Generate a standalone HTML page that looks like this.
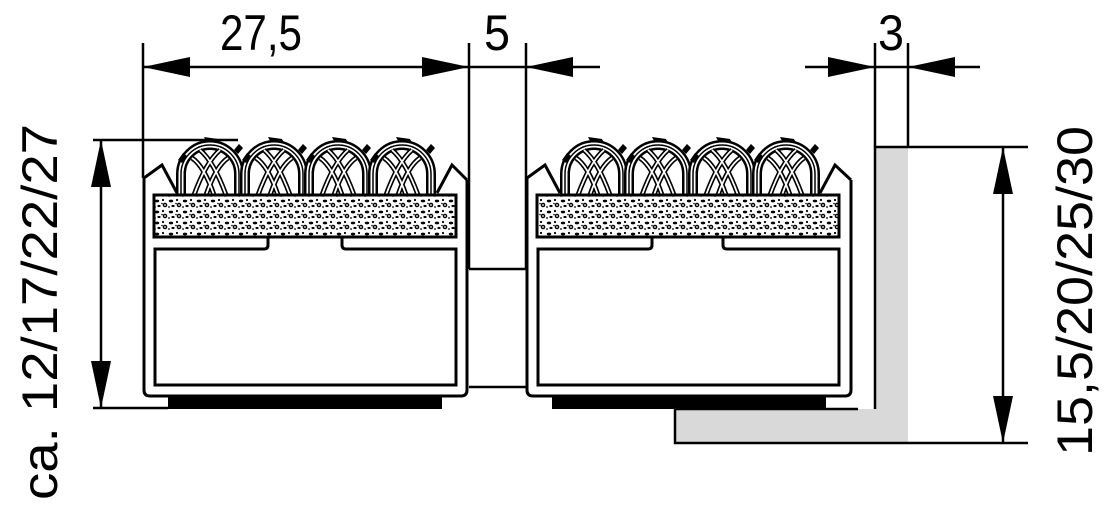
<!DOCTYPE html>
<html><head><meta charset="utf-8"><style>html,body{margin:0;padding:0;background:#fff}svg{display:block}</style></head>
<body>
<svg width="1109" height="506" viewBox="0 0 1109 506" xmlns="http://www.w3.org/2000/svg" font-family="Liberation Sans, sans-serif">
<defs>
<pattern id="crumb" width="14" height="11" patternUnits="userSpaceOnUse">
<rect width="14" height="11" fill="#fff"/>
<ellipse cx="3" cy="3" rx="2.2" ry="1.4" fill="#000"/>
<circle cx="9" cy="2" r="1.1" fill="#000"/>
<circle cx="11" cy="7" r="1.6" fill="none" stroke="#000" stroke-width="1.4"/>
<ellipse cx="5" cy="8" rx="1.6" ry="1.1" fill="#000"/>
<circle cx="1" cy="9" r="0.9" fill="#000"/>
<circle cx="8" cy="5.5" r="0.8" fill="#000"/>
</pattern>
<g id="loop">
<path d="M-29,23 L-29,2 A29,29 0 1 1 29,2 L29,23" fill="none" stroke="#000" stroke-width="10"/>
<path d="M-29,23 L-29,2 A29,29 0 1 1 29,2 L29,23" fill="none" stroke="#fff" stroke-width="5"/>
<path d="M-29,23 L-29,2 A29,29 0 1 1 29,2 L29,23" fill="none" stroke="#000" stroke-width="1.5"/>
<path d="M-16,23 Q-4,-10 10,-22 M-4,23 Q6,-6 18,-14 M16,23 Q4,-10 -10,-22 M4,23 Q-6,-6 -18,-14" fill="none" stroke="#000" stroke-width="5"/>
<path d="M-16,23 Q-4,-10 10,-22 M-4,23 Q6,-6 18,-14 M16,23 Q4,-10 -10,-22 M4,23 Q-6,-6 -18,-14" fill="none" stroke="#fff" stroke-width="1.8"/>
<path d="M-6,-35 L8,-33 L10,-29 L-4,-31 Z" fill="#000"/>
<path d="M-32,-12 L-27,-19 L-23,-16 L-28,-9 Z" fill="#000"/>
<path d="M24,-22 L29,-28 L33,-24 L28,-18 Z" fill="#000"/>
</g>
</defs>

<path d="M675,409 L875,409 L875,147 L908,147 L908,443 L675,443 Z" fill="#d9d9d9"/>
<path d="M675,409 L675,443 L908,443 M875,409 L875,147 L908,147 M675,409 L858,409" fill="none" stroke="#000" stroke-width="2.5"/>

<g fill="none" stroke="#000" stroke-width="3">
<path d="M144,178 L162,165 L177,193 M437,193 L452,165 L467,180"/>
<path d="M144,178 L144,390 Q144,396 150,396 L461,396 Q467,396 467,390 L467,180"/>
<path d="M268,238 L268,245 Q268,249 264,249 L155,249 L155,385 L456,385 L456,249 L346,249 Q342,249 342,245 L342,238"/>
</g>
<use href="#loop" x="210" y="172"/><use href="#loop" x="274" y="172"/><use href="#loop" x="338" y="172"/><use href="#loop" x="402" y="172"/>
<rect x="154" y="195" width="302" height="42" fill="url(#crumb)" stroke="#000" stroke-width="3"/>
<rect x="168" y="396" width="274" height="13" fill="#000"/>

<path d="M469,269 L526,269 M469,387 L526,387" stroke="#000" stroke-width="2.5"/>

<g fill="none" stroke="#000" stroke-width="3">
<path d="M527,178 L545,165 L560,193 M820,193 L835,165 L851,180"/>
<path d="M527,178 L527,390 Q527,396 533,396 L845,396 Q851,396 851,390 L851,180"/>
<path d="M652,238 L652,245 Q652,249 648,249 L538,249 L538,385 L839,385 L839,249 L727,249 Q723,249 723,245 L723,238"/>
</g>
<use href="#loop" x="594" y="172"/><use href="#loop" x="658" y="172"/><use href="#loop" x="722" y="172"/><use href="#loop" x="786" y="172"/>
<rect x="537" y="195" width="302" height="42" fill="url(#crumb)" stroke="#000" stroke-width="3"/>
<rect x="552" y="396" width="274" height="13" fill="#000"/>

<g stroke="#000" stroke-width="2.5" fill="none">
<path d="M143,43 L143,178 M469,43 L469,269 M526,43 L526,269 M875,43 L875,147 M908,43 L908,147"/>
<path d="M143,67 L600,67 M805,67 L980,67"/>
<path d="M101,140 L101,408 M93,140 L238,140 M93,408 L168,408"/>
<path d="M1003,147 L1003,443 M908,147 L1028,147 M908,443 L1028,443"/>
</g>
<g fill="#000">
<path d="M143,67 L190,57 L190,77 Z"/>
<path d="M469,67 L422,57 L422,77 Z"/>
<path d="M526,67 L573,57 L573,77 Z"/>
<path d="M875,67 L828,57 L828,77 Z"/>
<path d="M908,67 L955,57 L955,77 Z"/>
<path d="M101,140 L91,187 L111,187 Z"/>
<path d="M101,408 L91,361 L111,361 Z"/>
<path d="M1003,147 L993,194 L1013,194 Z"/>
<path d="M1003,443 L993,396 L1013,396 Z"/>
</g>

<g font-size="50" fill="#000">
<text x="220" y="50" textLength="82" lengthAdjust="spacingAndGlyphs">27,5</text>
<text x="484" y="50" textLength="26" lengthAdjust="spacingAndGlyphs">5</text>
<text x="878" y="50" textLength="26" lengthAdjust="spacingAndGlyphs">3</text>
<text transform="translate(57,500) rotate(-90)" textLength="376" lengthAdjust="spacingAndGlyphs">ca. 12/17/22/27</text>
<text transform="translate(1092,456) rotate(-90)" textLength="330" lengthAdjust="spacingAndGlyphs">15,5/20/25/30</text>
</g>
</svg>
</body></html>
